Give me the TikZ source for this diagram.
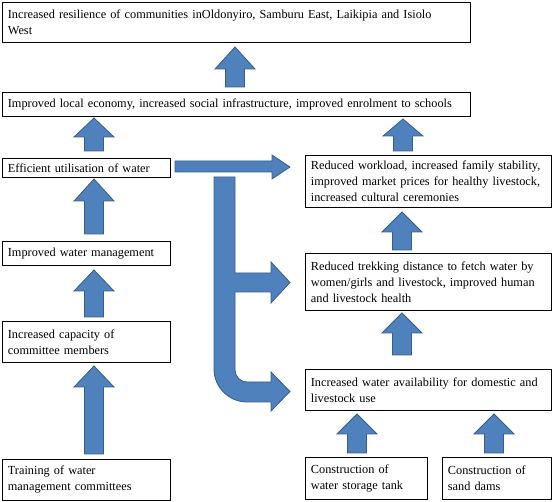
\documentclass[tikz,border=0pt]{standalone}
\usepackage{fontspec}
\setmainfont{Liberation Serif}
\hyphenpenalty=10000
\exhyphenpenalty=10000
\definecolor{arrfill}{HTML}{4F81BD}
\definecolor{arrline}{HTML}{385D8A}
\tikzset{
  box/.style={draw=black, line width=0.8pt, inner xsep=5.5pt, inner ysep=2pt, anchor=north west,
    align=left, font=\fontsize{12.3}{16}\selectfont},
  blk/.style={fill=arrfill, draw=arrline, line width=0.8pt, line join=miter}
}
\newcommand{\blockup}[4]{\draw[blk] (#1-9.5,#4) -- (#1-9.5,#3) -- (#1-20,#3) -- (#1,#2) -- (#1+20,#3) -- (#1+9.5,#3) -- (#1+9.5,#4) -- cycle;}
\begin{document}
\begin{tikzpicture}[x=1pt,y=-1pt]
\useasboundingbox (0,0) rectangle (552,502);
% boxes
\node[box, text width=457pt, minimum height=40pt] (b1) at (2,2) {Increased resilience of communities inOldonyiro, Samburu East, Laikipia and Isiolo\\West};
\node[box, text width=457pt, minimum height=24pt] (b2) at (2,92) {Improved local economy, increased social infrastructure, improved enrolment to schools};
\node[box, text width=157pt, minimum height=19pt] (eff) at (2,158) {Efficient utilisation of water};
\node[box, text width=157pt, minimum height=24pt] (wm) at (2,241) {Improved water management};
\node[box, text width=157pt, minimum height=41pt] (cap) at (2,321) {Increased capacity of\\committee members};
\node[box, text width=157pt, minimum height=41pt] (train) at (2,459) {Training of water\\management committees};
\node[box, text width=235pt, minimum height=52pt] (work) at (305,155) {Reduced workload, increased family stability,\\improved market prices for healthy livestock,\\increased cultural ceremonies};
\node[box, text width=235pt, minimum height=57pt] (trek) at (305,253) {Reduced trekking distance to fetch water by\\women/girls and livestock, improved human\\and livestock health};
\node[box, text width=235pt, minimum height=41pt] (avail) at (305,369) {Increased water availability for domestic and\\livestock use};
\node[box, text width=111pt, minimum height=42pt] (tank) at (305,457) {Construction of\\water storage tank};
\node[box, text width=98pt, minimum height=42pt] (sand) at (442,457) {Construction of\\sand dams};
% up arrows
\blockup{235}{47}{69}{87}
\blockup{94}{118}{137}{151}
\blockup{94}{179}{201}{234}
\blockup{94}{270}{291}{317}
\blockup{94}{366}{387}{454}
\blockup{403}{119}{136}{151}
\blockup{402}{212}{232}{250}
\blockup{402}{313}{333}{355}
\blockup{357}{414}{434}{453}
\blockup{494}{414}{434}{453}
% horizontal arrow
\draw[blk] (175,161) -- (272,161) -- (272,155) -- (290,167) -- (272,179) -- (272,172) -- (175,172) -- cycle;
% bent arrow
\draw[blk] (214,177) -- (235,177) -- (235,273) -- (271,273) -- (271,262) -- (290,282.5) -- (271,303) -- (271,292) -- (235,292) -- (235,370)
  .. controls (235,376.6) and (240.4,382) .. (247,382) -- (271,382) -- (271,372) -- (290,391.5) -- (271,411) -- (271,402) -- (247,402)
  .. controls (228.8,402) and (214,387.2) .. (214,369) -- cycle;
\end{tikzpicture}
\end{document}
